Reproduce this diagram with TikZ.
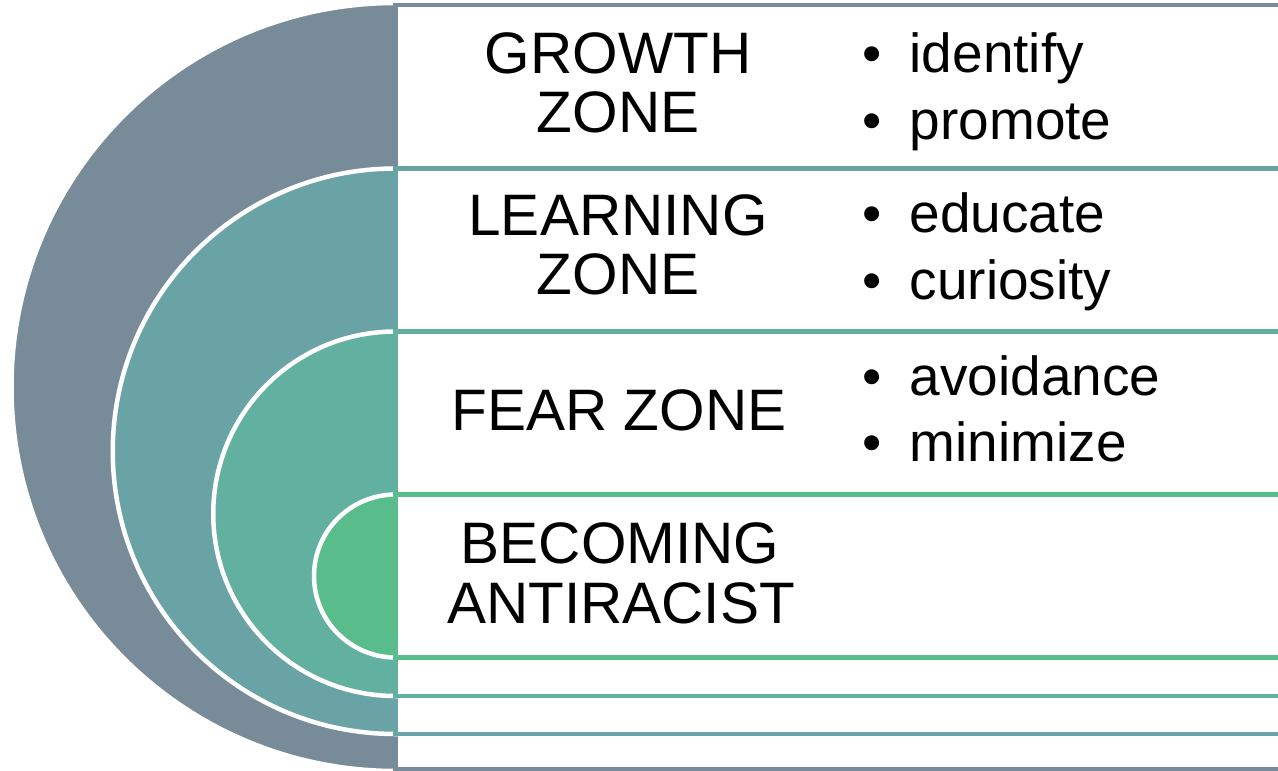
\documentclass[tikz,border=0pt]{standalone}
\usepackage{fontspec}
\setmainfont{Liberation Sans}
\definecolor{cA}{HTML}{778C98}
\definecolor{cB}{HTML}{6AA3A5}
\definecolor{cC}{HTML}{61B0A0}
\definecolor{cD}{HTML}{59BD8B}
\tikzset{
  halfdisc/.style={draw=white, line width=4.5pt, fill=#1},
  zonebox/.style={draw=#1, line width=4.5pt, fill=white},
  zonelabel/.style={inner sep=0pt, anchor=base, font=\fontsize{58.5}{60}\selectfont},
  bulletitem/.style={inner sep=0pt, anchor=base west, font=\fontsize{55}{60}\selectfont}
}
\newcommand{\bitem}[1]{\textbullet\hspace{28pt}#1}
\begin{document}
\begin{tikzpicture}[x=1pt,y=-1pt]
\clip (0,0) rectangle (1278,771);
\fill[white] (0,0) rectangle (1278,771);
% level 1
\draw[halfdisc=cA] (395.5,771) arc[start angle=90,end angle=270,radius=384] -- cycle;
\draw[zonebox=cA] (395.5,5) rectangle (1295,769.5);
% level 2
\draw[halfdisc=cB] (395.5,734) arc[start angle=90,end angle=270,radius=282.75] -- cycle;
\draw[zonebox=cB] (395.5,168.5) rectangle (1295,734);
% level 3
\draw[halfdisc=cC] (395.5,696) arc[start angle=90,end angle=270,radius=182.25] -- cycle;
\draw[zonebox=cC] (395.5,331.5) rectangle (1295,696);
% level 4
\draw[halfdisc=cD] (395.5,657.5) arc[start angle=90,end angle=270,radius=81.5] -- cycle;
\draw[zonebox=cD] (395.5,494.5) rectangle (1295,657.5);
% labels
\node[zonelabel] (g1) at (618,73.5) {GROWTH};
\node[zonelabel] (g2) at (618,132) {ZONE};
\node[zonelabel] (l1) at (618,235.5) {LEARNING};
\node[zonelabel] (l2) at (618,294) {ZONE};
\node[zonelabel] (f1) at (619,430) {FEAR ZONE};
\node[zonelabel] (b1) at (620,563.5) {BECOMING};
\node[zonelabel] (b2) at (621,623) {ANTIRACIST};
% bullets
\node[bulletitem] (i1) at (862.3,72) {\bitem{identify}};
\node[bulletitem] (i2) at (862.3,139) {\bitem{promote}};
\node[bulletitem] (i3) at (862.3,232) {\bitem{educate}};
\node[bulletitem] (i4) at (862.3,299) {\bitem{curiosity}};
\node[bulletitem] (i5) at (862.3,395) {\bitem{avoidance}};
\node[bulletitem] (i6) at (862.3,461.7) {\bitem{minimize}};
\end{tikzpicture}
\end{document}
